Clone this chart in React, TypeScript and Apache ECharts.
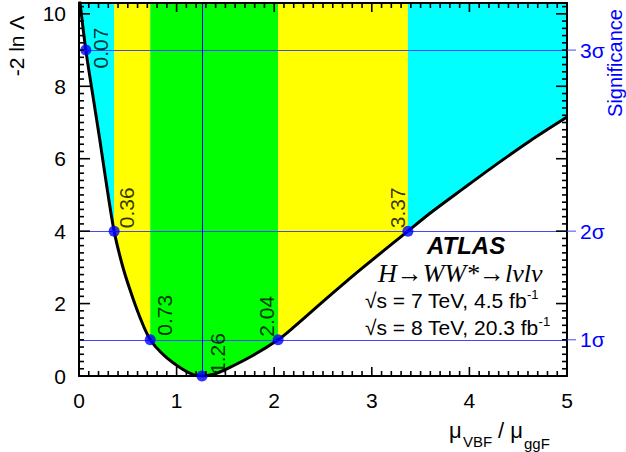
import React, { useEffect, useRef } from 'react';
import * as echarts from 'echarts';

// likelihood scan: mu_VBF / mu_ggF vs -2 ln Lambda
const curveX = [0.0, 0.07, 0.14, 0.21, 0.28, 0.36, 0.44, 0.52, 0.62, 0.73, 0.88, 1.07, 1.17, 1.26, 1.38, 1.51, 1.79, 2.04, 2.2, 2.54, 2.88, 3.37, 3.6, 3.94, 4.28, 4.62, 5.0];
const curveY = [10.55, 9.0, 7.78, 6.58, 5.32, 4.0, 3.1, 2.4, 1.65, 1.0, 0.55, 0.17, 0.04, 0.0, 0.05, 0.19, 0.58, 1.0, 1.35, 2.15, 2.93, 4.0, 4.5, 5.18, 5.85, 6.49, 7.15];

const crossX = [0.07, 0.36, 0.73, 1.26, 2.04, 3.37];
const crossY = [9, 4, 1, 0, 1, 4];
const crossLabels = ['0.07', '0.36', '0.73', '1.26', '2.04', '3.37'];

const sigLevels = [1, 4, 9];
const sigLabels = ['1σ', '2σ', '3σ'];

const bandEdges = [0, 0.36, 0.73, 2.04, 3.37, 5];
const bandColors = ['#00ffff', '#ffff00', '#00ff00', '#ffff00', '#00ffff'];

const xMajorTicks = [0, 1, 2, 3, 4, 5];
const yMajorTicks = [0, 2, 4, 6, 8, 10];
const xMinorStep = 0.1;
const yMinorStep = 0.2;

const X_MIN = 0, X_MAX = 5, Y_MIN = 0, Y_MAX = 10.3;

const SANS = "'Liberation Sans', Arial, Helvetica, sans-serif";
const SERIF = "'Liberation Serif', 'Times New Roman', serif";

// label placement per crossing point: [align, verticalAlign, dx, dy]
const labelPlace: [string, string, number, number][] = [
  ['center', 'top', 4, -2],
  ['left', 'top', 2, -3],
  ['left', 'top', 4, -4],
  ['left', 'top', 5, -2],
  ['left', 'bottom', -1, -3],
  ['left', 'bottom', 0, -3],
];

const GRID = { left: 79, right: 59, top: 3, bottom: 76, containLabel: false };
const SYM = 11;
const TICK_W = 1.6;

export default function App() {
  const baseRef = useRef<HTMLDivElement>(null);
  const topRef = useRef<HTMLDivElement>(null);
  useEffect(() => {
    const curve = curveX.map((x, i) => [x, curveY[i]]);

    const frameX = (pos: string, labels: boolean) => ({
      type: 'value', position: pos, min: X_MIN, max: X_MAX, interval: 1,
      axisLine: { show: true, onZero: false, lineStyle: { color: '#000', width: 2 } },
      axisTick: { show: false }, minorTick: { show: false },
      axisLabel: { show: labels, fontSize: 21, color: '#000', fontFamily: SANS, margin: 14 },
      splitLine: { show: false },
    });
    const frameY = (pos: string, labels: boolean) => ({
      type: 'value', position: pos, min: Y_MIN, max: Y_MAX, interval: 2,
      axisLine: { show: true, onZero: false, lineStyle: { color: '#000', width: 2 } },
      axisTick: { show: false }, minorTick: { show: false },
      axisLabel: { show: labels, showMaxLabel: false, fontSize: 21, color: '#000', fontFamily: SANS, margin: 13 },
      splitLine: { show: false },
    });
    const hiddenX = { type: 'value', min: X_MIN, max: X_MAX, show: false };
    const hiddenY = { type: 'value', min: Y_MIN, max: Y_MAX, show: false };

    // bottom layer: colour bands, white fill under curve, blue lines, curve
    const baseOption: any = {
      animation: false,
      backgroundColor: '#fff',
      grid: GRID,
      xAxis: hiddenX,
      yAxis: hiddenY,
      series: [
        {
          name: 'bands', type: 'line', data: curve, symbol: 'none', z: 1,
          lineStyle: { opacity: 0, width: 0 }, silent: true,
          markArea: {
            silent: true,
            data: bandColors.map((c, i) => [
              { xAxis: bandEdges[i], itemStyle: { color: c, opacity: 1, borderWidth: 0 } },
              { xAxis: bandEdges[i + 1] },
            ]),
          },
        },
        {
          name: 'fill', type: 'line', data: curve, symbol: 'none', smooth: 0.3, z: 2, clip: true,
          lineStyle: { width: 0, opacity: 0 },
          areaStyle: { color: '#fff', opacity: 1, origin: 'start' },
        },
        {
          name: 'lines', type: 'line', data: curve, symbol: 'none', z: 3, silent: true,
          lineStyle: { opacity: 0, width: 0 },
          markLine: {
            silent: true, symbol: ['none', 'none'], label: { show: false },
            data: [
              ...sigLevels.map((v) => ({ yAxis: v, lineStyle: { color: '#4646ff', width: 1, type: 'solid' } })),
              { xAxis: crossX[3], lineStyle: { color: '#0000ff', width: 1, type: 'solid' } },
            ],
          },
        },
        {
          name: 'curve', type: 'line', data: curve, symbol: 'none', smooth: 0.3, z: 4, clip: true,
          lineStyle: { color: '#000', width: 3 },
        },
      ],
    };

    const texts: any[] = [
      { type: 'text', x: 16, y: 46, rotation: Math.PI / 2, z: 20,
        style: { text: '-2 ln Λ', font: `21px ${SANS}`, fill: '#000', textAlign: 'center', textVerticalAlign: 'middle', align: 'center', verticalAlign: 'middle' } },
      { type: 'text', x: 615, y: 63, rotation: Math.PI / 2, z: 20,
        style: { text: 'Significance', font: `20px ${SANS}`, fill: '#0000ff', textAlign: 'center', textVerticalAlign: 'middle', align: 'center', verticalAlign: 'middle' } },
      { type: 'text', x: 449, y: 430, z: 20,
        style: { text: 'μ', font: `22px ${SANS}`, fill: '#000', textVerticalAlign: 'middle', verticalAlign: 'middle' } },
      { type: 'text', x: 463, y: 441, z: 20,
        style: { text: 'VBF', font: `15px ${SANS}`, fill: '#000', textVerticalAlign: 'middle', verticalAlign: 'middle' } },
      { type: 'text', x: 498, y: 430, z: 20,
        style: { text: '/ μ', font: `22px ${SANS}`, fill: '#000', textVerticalAlign: 'middle', verticalAlign: 'middle' } },
      { type: 'text', x: 524, y: 443, z: 20,
        style: { text: 'ggF', font: `15px ${SANS}`, fill: '#000', textVerticalAlign: 'middle', verticalAlign: 'middle' } },
      { type: 'text', x: 427, y: 245, z: 20,
        style: { text: 'ATLAS', font: `italic bold 24px ${SANS}`, fill: '#000', textVerticalAlign: 'middle', verticalAlign: 'middle' } },
      { type: 'text', x: 378, y: 273, z: 20,
        style: { text: 'H→WW*→lνlν', font: `italic 26px ${SERIF}`, fill: '#000', textVerticalAlign: 'middle', verticalAlign: 'middle' } },
      { type: 'text', x: 365, y: 300, z: 20,
        style: {
          text: '{t|√s = 7 TeV, 4.5 fb}{s|-1}', textVerticalAlign: 'middle', verticalAlign: 'middle',
          rich: { t: { fontSize: 21, fontFamily: SANS, color: '#000', lineHeight: 24 }, s: { fontSize: 13, fontFamily: SANS, color: '#000', verticalAlign: 'top', lineHeight: 13 } },
        } },
      { type: 'text', x: 365, y: 327, z: 20,
        style: {
          text: '{t|√s = 8 TeV, 20.3 fb}{s|-1}', textVerticalAlign: 'middle', verticalAlign: 'middle',
          rich: { t: { fontSize: 21, fontFamily: SANS, color: '#000', lineHeight: 24 }, s: { fontSize: 13, fontFamily: SANS, color: '#000', verticalAlign: 'top', lineHeight: 13 } },
        } },
    ];

    // top layer: frame, tick labels, points, texts
    const topOption: any = {
      animation: false,
      grid: GRID,
      xAxis: [frameX('bottom', true), frameX('top', false)],
      yAxis: [
        frameY('left', true),
        frameY('right', false),
        {
          type: 'value', position: 'right', min: Y_MIN, max: Y_MAX,
          axisLine: { show: false }, axisTick: { show: false },
          axisLabel: {
            show: true, customValues: sigLevels, margin: 13, fontSize: 21, color: '#0000ff', fontFamily: SANS,
            formatter: (v: number) => sigLabels[sigLevels.indexOf(v)] ?? '',
          },
          splitLine: { show: false },
        },
      ],
      graphic: texts,
      series: [
        {
          name: 'points', type: 'scatter', z: 7, symbolSize: SYM, clip: false,
          itemStyle: { color: '#0000ff' },
          data: crossX.map((x, i) => ({
            value: [x, crossY[i]],
            label: {
              show: true, formatter: crossLabels[i], rotate: 90,
              position: [SYM / 2 + labelPlace[i][2], SYM / 2 + labelPlace[i][3]],
              align: labelPlace[i][0], verticalAlign: labelPlace[i][1],
              fontSize: 21, color: '#000', fontFamily: SANS,
            },
          })),
        },
      ],
    };

    const base = echarts.init(baseRef.current!, null, { renderer: 'svg' });
    base.setOption(baseOption);
    const top = echarts.init(topRef.current!, null, { renderer: 'svg' });
    top.setOption(topOption);

    // tick marks: positions from the chart's own scales
    const px = (v: number[]) => top.convertToPixel({ gridIndex: 0 }, v) as number[];
    const tickEls: any[] = [];
    const rect = (x: number, y: number, w: number, h: number, fill: string) =>
      tickEls.push({ type: 'rect', z: 30, silent: true, shape: { x, y, width: w, height: h }, style: { fill } });
    const nx = Math.round((X_MAX - X_MIN) / xMinorStep);
    for (let i = 0; i <= nx; i++) {
      const v = +(X_MIN + i * xMinorStep).toFixed(3);
      const len = xMajorTicks.includes(v) ? 9 : 5;
      const b = px([v, Y_MIN]); const t = px([v, Y_MAX]);
      rect(b[0] - TICK_W / 2, b[1] - len, TICK_W, len, '#000');
      rect(t[0] - TICK_W / 2, t[1], TICK_W, len, '#000');
    }
    const ny = Math.floor((Y_MAX - Y_MIN) / yMinorStep + 1e-6);
    for (let i = 0; i <= ny; i++) {
      const v = +(Y_MIN + i * yMinorStep).toFixed(3);
      const len = yMajorTicks.includes(v) ? 11 : 5;
      const l = px([X_MIN, v]); const r = px([X_MAX, v]);
      rect(l[0], l[1] - TICK_W / 2, len, TICK_W, '#000');
      rect(r[0] - len, r[1] - TICK_W / 2, len, TICK_W, '#000');
    }
    sigLevels.forEach((v) => {
      const r = px([X_MAX, v]);
      rect(r[0], r[1] - 0.5, 9, 1, '#4646ff');
    });
    top.setOption({ graphic: [...texts, ...tickEls] });

    return () => { base.dispose(); top.dispose(); };
  }, []);
  const box: React.CSSProperties = { width: 626, height: 452, position: 'fixed', left: 0, top: 0 };
  return (
    <div>
      <div ref={baseRef} style={box} />
      <div ref={topRef} style={{ ...box, pointerEvents: 'none' }} />
    </div>
  );
}
